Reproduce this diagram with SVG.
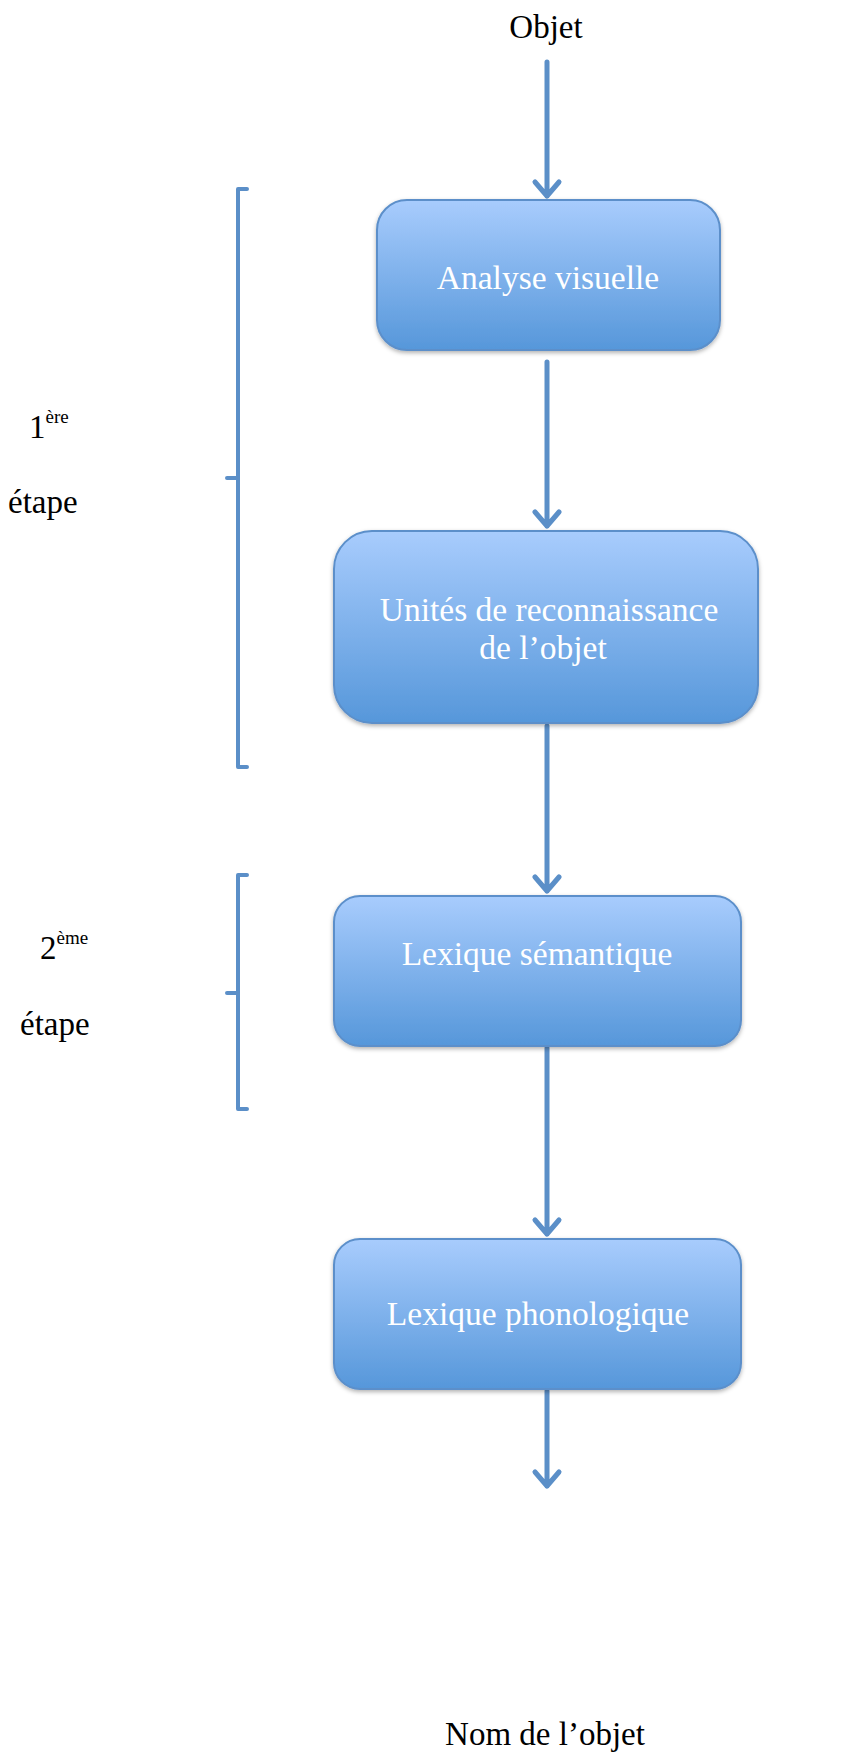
<svg xmlns="http://www.w3.org/2000/svg" width="847" height="1756" viewBox="0 0 847 1756">
<defs>
<linearGradient id="g" x1="0" y1="0" x2="0" y2="1">
<stop offset="0" stop-color="#a8ccfd"/>
<stop offset="1" stop-color="#5697da"/>
</linearGradient>
<filter id="sh" x="-10%" y="-10%" width="120%" height="130%">
<feDropShadow dx="0" dy="2" stdDeviation="2" flood-color="#000" flood-opacity="0.3"/>
</filter>
</defs>
<style>
.box{fill:url(#g);stroke:#5b8fca;stroke-width:2;filter:url(#sh)}
.bt{font-family:"Liberation Serif",serif;font-size:33.5px;fill:#ffffff;text-anchor:middle}
.lt{font-family:"Liberation Serif",serif;font-size:33px;fill:#000000}
.c{fill:none;stroke:#5b8fc8;stroke-width:5;stroke-linecap:round;stroke-linejoin:round}
.br{fill:none;stroke:#5b8fc8;stroke-width:4;stroke-linecap:round;stroke-linejoin:round}
</style>
<rect width="847" height="1756" fill="#ffffff"/>
<g id="connectors">
<path class="c" d="M547 62V196M535 182L547 196L559 182"/>
<path class="c" d="M547 362V526M535 512L547 526L559 512"/>
<path class="c" d="M547 726V891M535 877L547 891L559 877"/>
<path class="c" d="M547 1048V1234M535 1220L547 1234L559 1220"/>
<path class="c" d="M547 1391V1486M535 1472L547 1486L559 1472"/>
</g>
<g id="bracket1"><path class="br" d="M247 189H238V767H247M238 478H227"/></g>
<g id="bracket2"><path class="br" d="M247 875H238V1109H247M238 993H227"/></g>
<g id="objet"><text class="lt" x="546" y="38" text-anchor="middle">Objet</text></g>
<g id="n1"><rect class="box" x="377" y="200" width="343" height="150" rx="30"/><text class="bt" x="548" y="289">Analyse visuelle</text></g>
<g id="n2"><rect class="box" x="334" y="531" width="424" height="192" rx="38"/><text class="bt" x="549" y="621">Unités de reconnaissance</text><text class="bt" x="543" y="659">de l’objet</text></g>
<g id="n3"><rect class="box" x="334" y="896" width="407" height="150" rx="26"/><text class="bt" x="537" y="965">Lexique sémantique</text></g>
<g id="n4"><rect class="box" x="334" y="1239" width="407" height="150" rx="26"/><text class="bt" x="538" y="1325">Lexique phonologique</text></g>
<g id="label1"><text class="lt" x="29" y="438">1<tspan font-size="19" dy="-15">ère</tspan></text><text class="lt" x="8" y="513">étape</text></g>
<g id="label2"><text class="lt" x="40" y="959">2<tspan font-size="19" dy="-15">ème</tspan></text><text class="lt" x="20" y="1035">étape</text></g>
<g id="nom"><text class="lt" x="545" y="1745" text-anchor="middle">Nom de l’objet</text></g>
</svg>
